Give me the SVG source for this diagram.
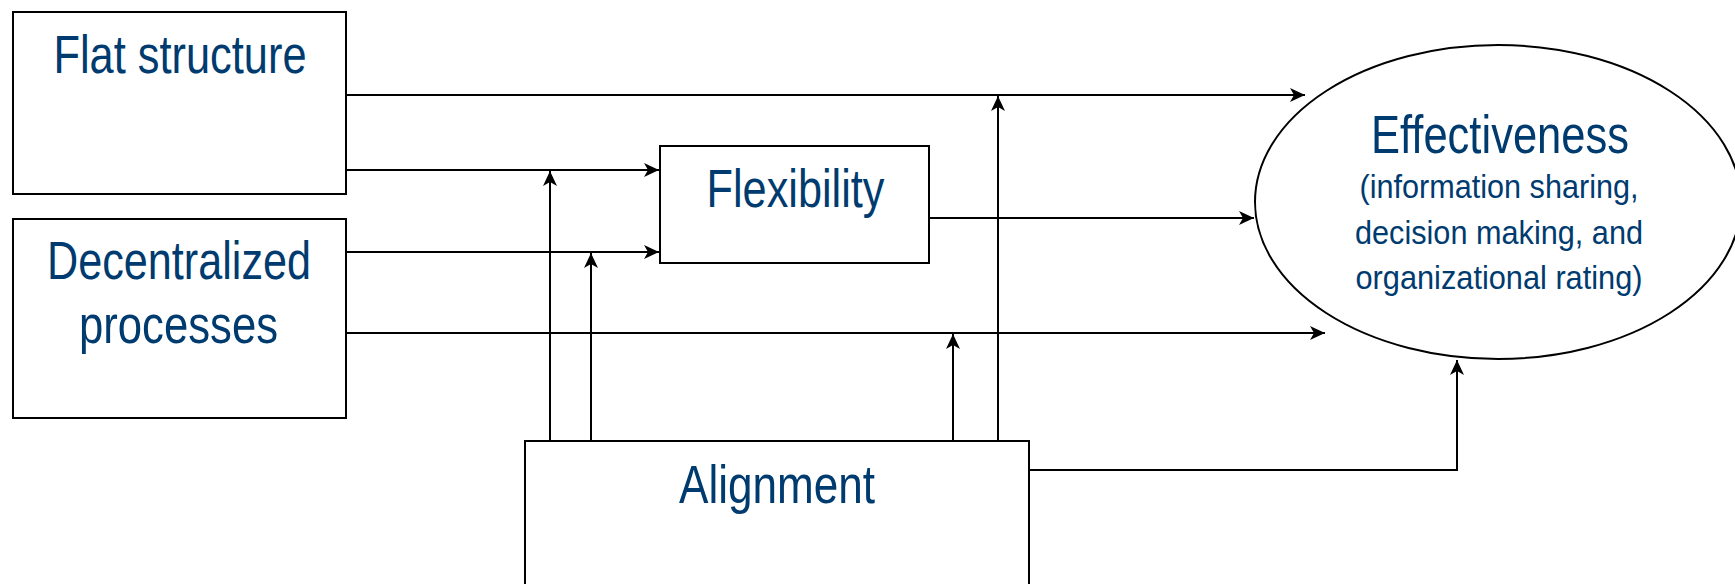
<svg xmlns="http://www.w3.org/2000/svg" width="1735" height="584" viewBox="0 0 1735 584">
<style>
.box{fill:#fff;stroke:#000;stroke-width:2}
.lbl{font-family:"Liberation Sans",Arial,sans-serif;fill:#003b6f;text-anchor:middle}
.big{font-size:53px}
.sm{font-size:34px}
.con{fill:none;stroke:#000;stroke-width:2;marker-end:url(#arr)}
</style>
<defs>
<marker id="arr" markerUnits="userSpaceOnUse" viewBox="-1 -9 18 18" markerWidth="18" markerHeight="18" refX="15" refY="0" orient="auto">
<path d="M15 0 L0 -7 L4 0 L0 7 Z" fill="#000"/>
</marker>
</defs>
<rect width="1735" height="584" fill="#fff"/>
<g id="flat-structure">
<rect class="box" x="13" y="12" width="333" height="182"/>
<text class="lbl big" x="180" y="73" textLength="253" lengthAdjust="spacingAndGlyphs">Flat structure</text>
</g>
<g id="decentralized-processes">
<rect class="box" x="13" y="219" width="333" height="199"/>
<text class="lbl big" x="179" y="279" textLength="264" lengthAdjust="spacingAndGlyphs">Decentralized</text>
<text class="lbl big" x="178.5" y="343" textLength="199" lengthAdjust="spacingAndGlyphs">processes</text>
</g>
<g id="flexibility">
<rect class="box" x="660" y="146" width="269" height="117"/>
<text class="lbl big" x="795.5" y="207" textLength="178" lengthAdjust="spacingAndGlyphs">Flexibility</text>
</g>
<g id="alignment">
<rect class="box" x="525" y="441" width="504" height="160"/>
<text class="lbl big" x="777" y="503" textLength="196" lengthAdjust="spacingAndGlyphs">Alignment</text>
</g>
<g id="effectiveness">
<ellipse cx="1498" cy="202" rx="243" ry="157" fill="#fff" stroke="#000" stroke-width="2"/>
<text class="lbl big" x="1500" y="153" textLength="258" lengthAdjust="spacingAndGlyphs">Effectiveness</text>
<text class="lbl sm" x="1499" y="198" textLength="279" lengthAdjust="spacingAndGlyphs">(information sharing,</text>
<text class="lbl sm" x="1499" y="244" textLength="288" lengthAdjust="spacingAndGlyphs">decision making, and</text>
<text class="lbl sm" x="1499" y="289" textLength="287" lengthAdjust="spacingAndGlyphs">organizational rating)</text>
</g>
<g id="connectors">
<path class="con" d="M346 95 H1305"/>
<path class="con" d="M346 170 H659"/>
<path class="con" d="M346 252 H659"/>
<path class="con" d="M346 333 H1325"/>
<path class="con" d="M929 218 H1254"/>
<path class="con" d="M550 441 V171"/>
<path class="con" d="M591 441 V253"/>
<path class="con" d="M953 441 V334"/>
<path class="con" d="M998 441 V96"/>
<path class="con" d="M1029 470 H1457 V360"/>
</g>
</svg>
